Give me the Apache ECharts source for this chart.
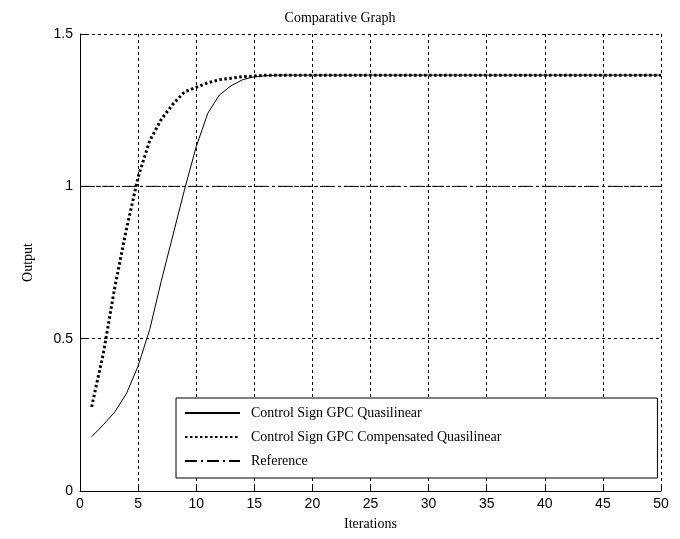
<!DOCTYPE html>
<html>
<head>
<meta charset="utf-8">
<title>Comparative Graph</title>
<script src="https://cdn.jsdelivr.net/npm/echarts@6/dist/echarts.min.js"></script>
<style>
  html, body { margin: 0; padding: 0; background: #fff; }
  #chart { width: 680px; height: 539px; }
</style>
</head>
<body>
<div id="chart"></div>
<script>
// iterations 1..50
const iterations = [
  1, 2, 3, 4, 5, 6, 7, 8, 9, 10,
  11, 12, 13, 14, 15, 16, 17, 18, 19, 20,
  21, 22, 23, 24, 25, 26, 27, 28, 29, 30,
  31, 32, 33, 34, 35, 36, 37, 38, 39, 40,
  41, 42, 43, 44, 45, 46, 47, 48, 49, 50
]
// Control Sign GPC Quasilinear (solid)
const quasilinear = [
  0.178, 0.217, 0.26, 0.32, 0.41, 0.53, 0.69, 0.84, 0.99, 1.13,
  1.24, 1.30, 1.33, 1.35, 1.36, 1.363, 1.365, 1.365, 1.365, 1.365,
  1.365, 1.365, 1.365, 1.365, 1.365, 1.365, 1.365, 1.365, 1.365, 1.365,
  1.365, 1.365, 1.365, 1.365, 1.365, 1.365, 1.365, 1.365, 1.365, 1.365,
  1.365, 1.365, 1.365, 1.365, 1.365, 1.365, 1.365, 1.365, 1.365, 1.365
]
// Control Sign GPC Compensated Quasilinear (dotted)
const compensated = [
  0.276, 0.45, 0.67, 0.86, 1.03, 1.15, 1.22, 1.27, 1.31, 1.325,
  1.34, 1.35, 1.355, 1.36, 1.362, 1.365, 1.365, 1.365, 1.365, 1.365,
  1.365, 1.365, 1.365, 1.365, 1.365, 1.365, 1.365, 1.365, 1.365, 1.365,
  1.365, 1.365, 1.365, 1.365, 1.365, 1.365, 1.365, 1.365, 1.365, 1.365,
  1.365, 1.365, 1.365, 1.365, 1.365, 1.365, 1.365, 1.365, 1.365, 1.365
]
// Reference
const referenceX = [0, 50]
const referenceY = [1, 1]

const seriesNames = [
  'Control Sign GPC Quasilinear',
  'Control Sign GPC Compensated Quasilinear',
  'Reference'
]

const serif = '"Liberation Serif", "DejaVu Serif", serif'
const sans = '"Liberation Sans", Arial, sans-serif'

const gridLine = { show: true, lineStyle: { color: '#000', width: 1, type: [3, 3] } }

const chart = echarts.init(document.getElementById('chart'))
chart.setOption({
  animation: false,
  backgroundColor: '#fff',
  title: {
    text: 'Comparative Graph',
    left: 'center',
    top: 6,
    textStyle: { fontFamily: serif, fontSize: 14, fontWeight: 'normal', color: '#000' }
  },
  grid: { left: 80, right: 19, top: 34, bottom: 48 },
  legend: {
    orient: 'vertical',
    left: 176,
    top: 398,
    data: seriesNames,
    itemWidth: 55,
    itemHeight: 14,
    itemGap: 10,
    padding: [8, 156, 10, 8],
    backgroundColor: '#fff',
    borderColor: '#000',
    borderWidth: 1,
    borderRadius: 0,
    // hide the marker in the middle of each line sample
    itemStyle: { opacity: 0 },
    textStyle: { fontFamily: serif, fontSize: 14, color: '#000', padding: [0, 0, 0, 6] }
  },
  xAxis: {
    type: 'value',
    min: 0,
    max: 50,
    interval: 5,
    name: 'Iterations',
    nameLocation: 'middle',
    nameGap: 26,
    nameTextStyle: { fontFamily: serif, fontSize: 14, color: '#000' },
    axisLine: { lineStyle: { color: '#000', width: 1 } },
    axisTick: { inside: true, length: 6, lineStyle: { color: '#000' } },
    axisLabel: { fontFamily: sans, fontSize: 14, color: '#000', margin: 6 },
    splitLine: gridLine
  },
  yAxis: {
    type: 'value',
    min: 0,
    max: 1.5,
    interval: 0.5,
    name: 'Output',
    nameLocation: 'middle',
    nameGap: 45,
    nameRotate: 90,
    nameTextStyle: { fontFamily: serif, fontSize: 14, color: '#000' },
    axisLine: { show: true, lineStyle: { color: '#000', width: 1 } },
    axisTick: { show: true, inside: true, length: 6, lineStyle: { color: '#000' } },
    axisLabel: { fontFamily: sans, fontSize: 14, color: '#000', margin: 7 },
    splitLine: gridLine
  },
  series: [
    {
      name: seriesNames[0],
      type: 'line',
      showSymbol: false,
      symbol: 'none',
      data: iterations.map((x, i) => [x, quasilinear[i]]),
      lineStyle: { color: '#000', width: 1 },
      itemStyle: { color: '#000' },
      z: 3
    },
    {
      name: seriesNames[1],
      type: 'line',
      showSymbol: false,
      symbol: 'none',
      data: iterations.map((x, i) => [x, compensated[i]]),
      lineStyle: { color: '#000', width: 3, type: [2.5, 2.5] },
      itemStyle: { color: '#000' },
      z: 4
    },
    {
      name: seriesNames[2],
      type: 'line',
      showSymbol: false,
      symbol: 'none',
      data: referenceX.map((x, i) => [x, referenceY[i]]),
      lineStyle: { color: '#000', width: 1, type: [12, 4, 2, 4] },
      itemStyle: { color: '#000' },
      z: 2
    }
  ]
})
</script>
</body>
</html>
